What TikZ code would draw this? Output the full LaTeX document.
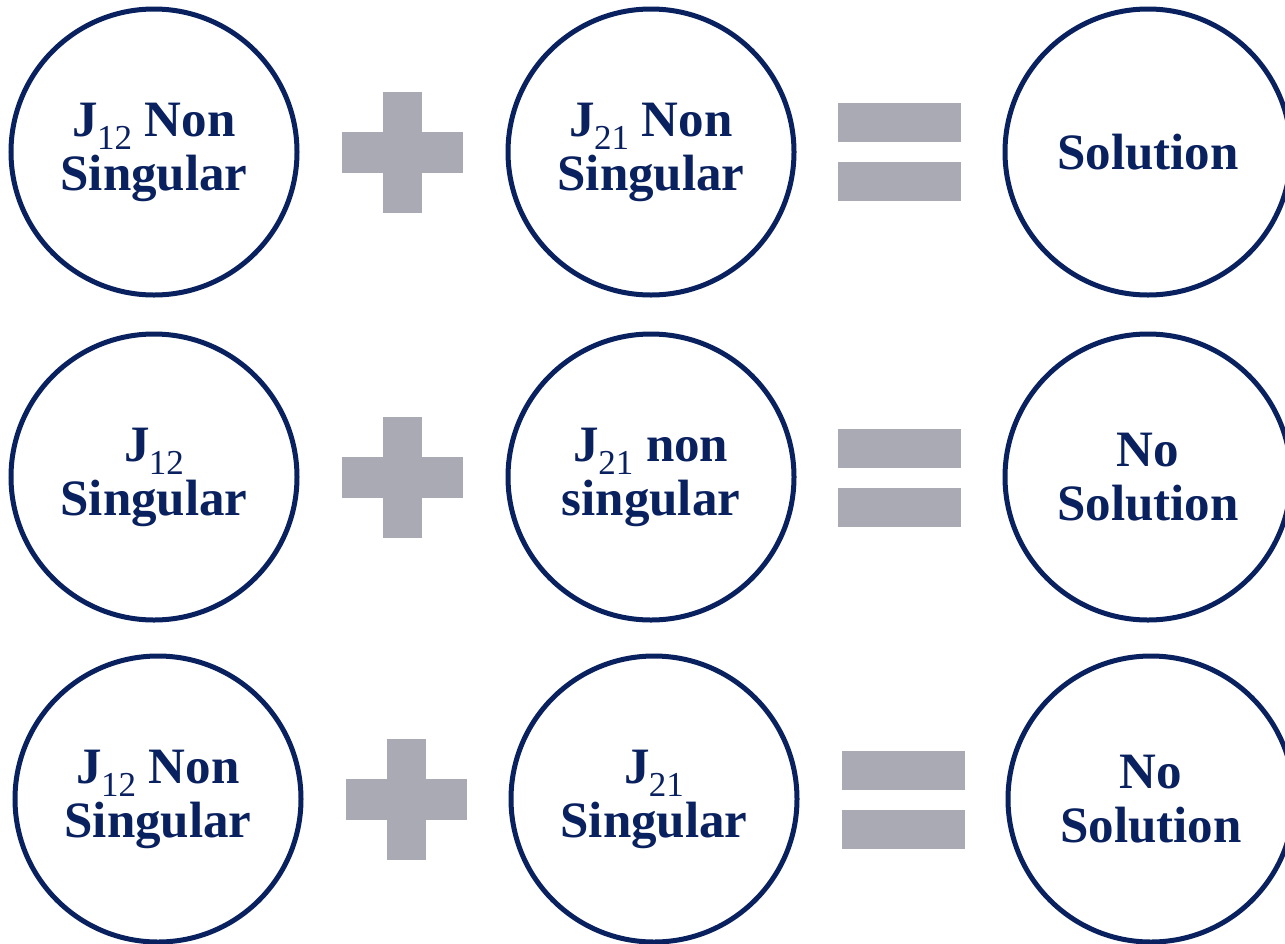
\documentclass[tikz,border=0pt]{standalone}
\usepackage{fontspec}
\setmainfont{Liberation Serif}
\definecolor{navy}{HTML}{0A2160}
\definecolor{opgray}{HTML}{AAAAB4}
\newcommand{\jsub}[1]{\kern-1pt\smash{\raisebox{-0.27em}{\fontsize{35}{35}\selectfont\mdseries #1}}}
\tikzset{
  ring/.style={circle, draw=navy, line width=5pt, minimum size=286pt, inner sep=0pt,
    text=navy, align=center, font=\bfseries\fontsize{51}{54}\selectfont},
  plussign/.pic={
    \fill[opgray] (-60.5,-20.5) rectangle (60.5,20.5);
    \fill[opgray] (-19.5,-60.5) rectangle (19.5,60.5);
  },
  equalsign/.pic={
    \fill[opgray] (-61.5,-49) rectangle (61.5,-10);
    \fill[opgray] (-61.5,10) rectangle (61.5,49);
  }
}
\begin{document}
\begin{tikzpicture}[x=1pt,y=-1pt]
\useasboundingbox (0,0) rectangle (1285,943);
\clip (0,0) rectangle (1285,943);
\fill[white] (0,0) rectangle (1285,943);
% row 1
\node[ring] (a1) at (154,152) {J\jsub{12} Non\\Singular};
\pic at (402.5,152) {plussign};
\node[ring] (b1) at (651,152) {J\jsub{21} Non\\Singular};
\pic at (899.5,152) {equalsign};
\node[ring] (c1) at (1148,152) {Solution};
% row 2
\node[ring] (a2) at (154,477) {J\jsub{12}\\Singular};
\pic at (402.5,477) {plussign};
\node[ring] (b2) at (651,477) {J\jsub{21} non\\singular};
\pic at (899.5,477.5) {equalsign};
\node[ring] (c2) at (1148,477) {No\\Solution};
% row 3
\node[ring] (a3) at (158,799) {J\jsub{12} Non\\Singular};
\pic at (406.5,799.5) {plussign};
\node[ring] (b3) at (654,799) {J\jsub{21}\\Singular};
\pic at (903,799.5) {equalsign};
\node[ring] (c3) at (1151,799) {No\\Solution};
\end{tikzpicture}
\end{document}
